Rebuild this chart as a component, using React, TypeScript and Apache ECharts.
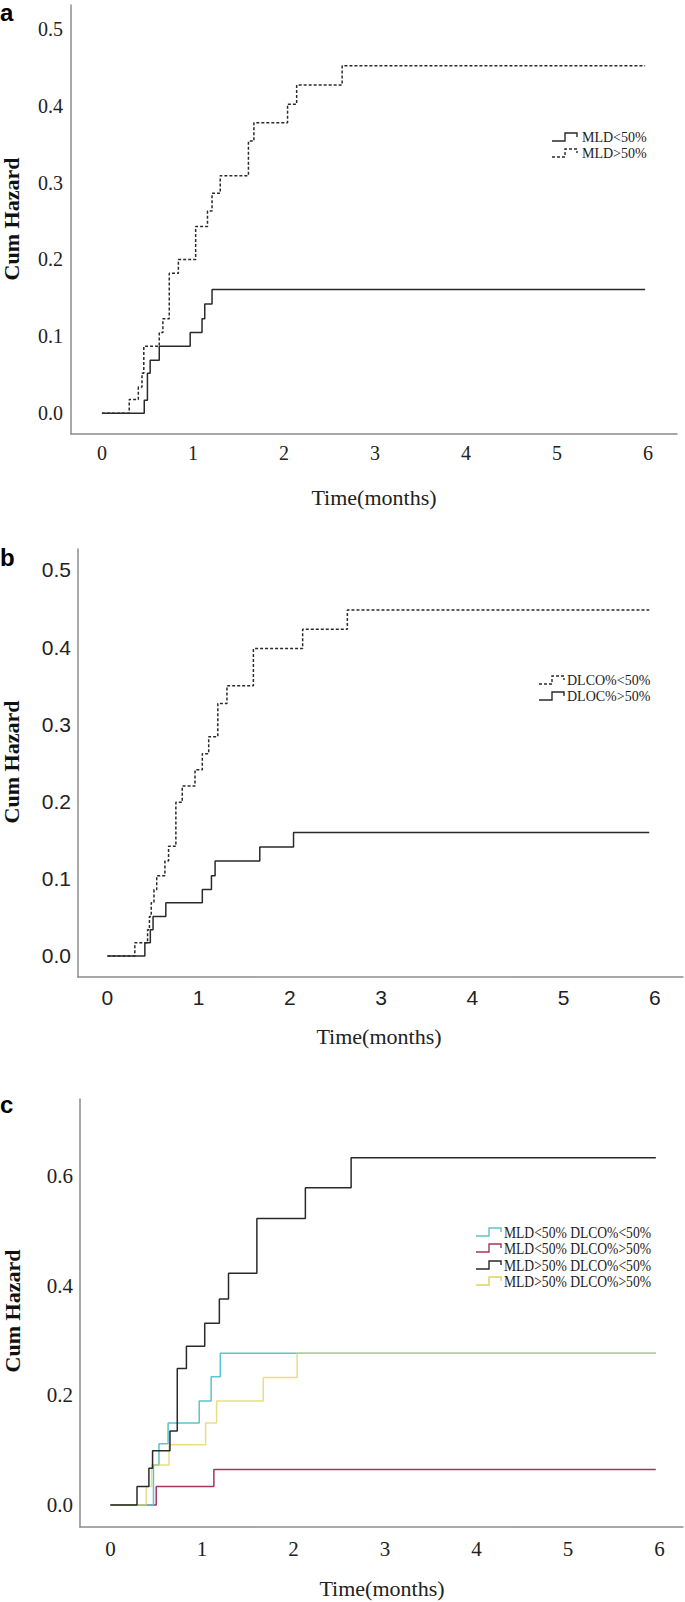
import React, { useEffect, useRef } from "react";
import * as echarts from "echarts";

// Panel a: MLD groups
const aLowT = [0, 0.465, 0.5, 0.53, 0.63, 0.97, 1.1, 1.13, 1.21, 5.97];
const aLowV = [0, 0.017, 0.052, 0.069, 0.087, 0.105, 0.123, 0.142, 0.161, 0.161];
const aHighT = [0, 0.3, 0.4, 0.44, 0.46, 0.63, 0.67, 0.74, 0.84, 1.03, 1.16, 1.21, 1.3, 1.61, 1.67, 2.04, 2.14, 2.64, 5.97];
const aHighV = [0, 0.018, 0.034, 0.052, 0.087, 0.105, 0.123, 0.182, 0.2, 0.243, 0.263, 0.286, 0.309, 0.354, 0.378, 0.402, 0.427, 0.452, 0.452];

// Panel b: DLCO groups
const bLowT = [0, 0.3, 0.44, 0.46, 0.48, 0.51, 0.54, 0.63, 0.67, 0.75, 0.82, 0.96, 1.04, 1.11, 1.21, 1.31, 1.6, 2.14, 2.63, 5.94];
const bLowV = [0, 0.017, 0.034, 0.051, 0.069, 0.086, 0.104, 0.123, 0.142, 0.199, 0.22, 0.241, 0.262, 0.284, 0.327, 0.35, 0.398, 0.423, 0.448, 0.448];
const bHighT = [0, 0.41, 0.47, 0.5, 0.64, 1.04, 1.14, 1.18, 1.67, 2.04, 5.94];
const bHighV = [0, 0.017, 0.034, 0.051, 0.069, 0.086, 0.104, 0.123, 0.141, 0.16, 0.16];

// Panel c: combined groups
const cCyanT = [0, 0.47, 0.53, 0.63, 0.97, 1.1, 1.2, 5.96];
const cCyanV = [0, 0.073, 0.112, 0.15, 0.19, 0.234, 0.277, 0.277];
const cRedT = [0, 0.5, 1.13, 5.96];
const cRedV = [0, 0.034, 0.065, 0.065];
const cBlackT = [0, 0.29, 0.42, 0.46, 0.65, 0.73, 0.83, 1.03, 1.19, 1.29, 1.6, 2.13, 2.63, 5.96];
const cBlackV = [0, 0.034, 0.067, 0.099, 0.135, 0.249, 0.29, 0.332, 0.376, 0.423, 0.523, 0.579, 0.634, 0.634];
const cYellowT = [0, 0.39, 0.45, 0.64, 1.04, 1.16, 1.67, 2.04, 5.96];
const cYellowV = [0, 0.034, 0.073, 0.11, 0.15, 0.19, 0.233, 0.277, 0.277];

const xTicks = [0, 1, 2, 3, 4, 5, 6];
const yTicksAB = [0, 0.1, 0.2, 0.3, 0.4, 0.5];
const yTicksC = [0, 0.2, 0.4, 0.6];

const legendA = ["MLD<50%", "MLD>50%"];
const legendB = ["DLCO%<50%", "DLOC%>50%"];
const legendC = ["MLD<50% DLCO%<50%", "MLD<50% DLCO%>50%", "MLD>50% DLCO%<50%", "MLD>50% DLCO%>50%"];

const SERIF = "'Liberation Serif', 'Times New Roman', serif";
const SANS = "'Liberation Sans', Arial, sans-serif";
const AXIS = "#8c8c8c";
const INK = "#2a2a2a";
const CYAN = "#5cc4cc";
const RED = "#a8345c";
const YELLOW = "#ddd45c";

const pairs = (t: number[], v: number[]) => t.map((x, i) => [x, v[i]]);

function stepIcon(x0: number, cy: number, color: string, dashed: boolean) {
  return {
    type: "polyline",
    silent: true,
    shape: {
      points: [
        [x0, cy + 4],
        [x0 + 13, cy + 4],
        [x0 + 13, cy - 4],
        [x0 + 25, cy - 4],
        [x0 + 25, cy],
      ],
    },
    style: { stroke: color, lineWidth: 1.4, fill: "none", lineDash: dashed ? [3, 2] : null },
  };
}

function legendText(x: number, cy: number, text: string, size: number, scaleX: number) {
  return {
    type: "text",
    x,
    y: cy,
    scaleX,
    silent: true,
    style: { text, fontFamily: SERIF, fontSize: size, fill: "#222", align: "left", verticalAlign: "middle" },
  };
}

export default function App() {
  const ref = useRef<HTMLDivElement>(null);
  useEffect(() => {
    document.body.style.margin = "0";
    if (!ref.current) return;
    const chart = echarts.init(ref.current, undefined, { renderer: "svg" });

    const mkX = (gi: number, min: number, max: number, font: string, size: number, margin: number) => ({
      type: "value",
      gridIndex: gi,
      min,
      max,
      axisLine: { show: true, onZero: false, lineStyle: { color: AXIS, width: 1.5 } },
      axisTick: { show: false },
      splitLine: { show: false },
      axisLabel: {
        customValues: xTicks,
        formatter: (v: number) => String(Math.round(v)),
        color: "#222",
        fontFamily: font,
        fontSize: size,
        margin,
      },
    });
    const mkY = (gi: number, min: number, max: number, ticks: number[], font: string, size: number, margin: number) => ({
      type: "value",
      gridIndex: gi,
      min,
      max,
      axisLine: { show: true, onZero: false, lineStyle: { color: AXIS, width: 1.5 } },
      axisTick: { show: false },
      splitLine: { show: false },
      axisLabel: {
        customValues: ticks,
        formatter: (v: number) => v.toFixed(1),
        color: "#222",
        fontFamily: font,
        fontSize: size,
        margin,
        padding: [8, 0, 0, 0],
      },
    });
    const line = (gi: number, data: number[][], color: string, dashed: boolean, name: string, opacity = 1) => ({
      type: "line",
      name,
      xAxisIndex: gi,
      yAxisIndex: gi,
      data,
      step: "end",
      symbol: "none",
      showSymbol: false,
      lineStyle: { color, width: 1.5, type: dashed ? [3, 2] : "solid", opacity },
    });

    const title = (x: number, y: number, text: string) => ({
      type: "text",
      x,
      y,
      silent: true,
      style: { text, fontFamily: SERIF, fontSize: 22, fill: "#222", align: "center", verticalAlign: "middle" },
    });
    const yTitle = (x: number, y: number) => ({
      type: "text",
      x,
      y,
      rotation: Math.PI / 2,
      silent: true,
      style: { text: "Cum Hazard", fontFamily: SERIF, fontWeight: "bold", fontSize: 22, fill: "#111", align: "center", verticalAlign: "middle" },
    });
    const panelLabel = (x: number, y: number, text: string) => ({
      type: "text",
      x,
      y,
      silent: true,
      style: { text, fontFamily: SANS, fontWeight: "bold", fontSize: 24, fill: "#000", align: "left", verticalAlign: "top" },
    });

    chart.setOption({
      animation: false,
      backgroundColor: "#ffffff",
      grid: [
        { left: 71, top: 5, width: 606, height: 429 },
        { left: 78, top: 549, width: 605, height: 428 },
        { left: 80, top: 1099, width: 603, height: 428 },
      ],
      xAxis: [
        mkX(0, -0.34, 6.32, SERIF, 20, 9),
        mkX(1, -0.323, 6.31, SANS, 21, 10),
        mkX(2, -0.333, 6.257, SERIF, 21, 11),
      ],
      yAxis: [
        mkY(0, -0.027, 0.531, yTicksAB, SERIF, 20, 8),
        mkY(1, -0.0272, 0.527, yTicksAB, SANS, 21, 7),
        mkY(2, -0.04, 0.741, yTicksC, SERIF, 21, 7),
      ],
      series: [
        line(0, pairs(aLowT, aLowV), INK, false, legendA[0]),
        line(0, pairs(aHighT, aHighV), INK, true, legendA[1]),
        line(1, pairs(bLowT, bLowV), INK, true, legendB[0]),
        line(1, pairs(bHighT, bHighV), INK, false, legendB[1]),
        line(2, pairs(cRedT, cRedV), RED, false, legendC[1]),
        line(2, pairs(cCyanT, cCyanV), CYAN, false, legendC[0]),
        line(2, pairs(cYellowT, cYellowV), YELLOW, false, legendC[3], 0.75),
        line(2, pairs(cBlackT, cBlackV), INK, false, legendC[2]),
      ],
      graphic: [
        panelLabel(0, 0, "a"),
        panelLabel(0, 545, "b"),
        panelLabel(0, 1092, "c"),
        yTitle(11, 219),
        yTitle(11, 762),
        yTitle(12, 1311),
        title(374, 497, "Time(months)"),
        title(379, 1036, "Time(months)"),
        title(382, 1588, "Time(months)"),
        stepIcon(552, 137, INK, false),
        legendText(582, 137, legendA[0], 14, 1),
        stepIcon(552, 153, INK, true),
        legendText(582, 153, legendA[1], 14, 1),
        stepIcon(539, 680, INK, true),
        legendText(567, 680, legendB[0], 14, 1),
        stepIcon(539, 696, INK, false),
        legendText(567, 696, legendB[1], 14, 1),
        stepIcon(476, 1232, CYAN, false),
        legendText(504, 1232, legendC[0], 17, 0.8),
        stepIcon(476, 1248, RED, false),
        legendText(504, 1248, legendC[1], 17, 0.8),
        stepIcon(476, 1265, INK, false),
        legendText(504, 1265, legendC[2], 17, 0.8),
        stepIcon(476, 1281, YELLOW, false),
        legendText(504, 1281, legendC[3], 17, 0.8),
      ],
    });
    return () => chart.dispose();
  }, []);
  return <div ref={ref} style={{ width: 685, height: 1602 }} />;
}
